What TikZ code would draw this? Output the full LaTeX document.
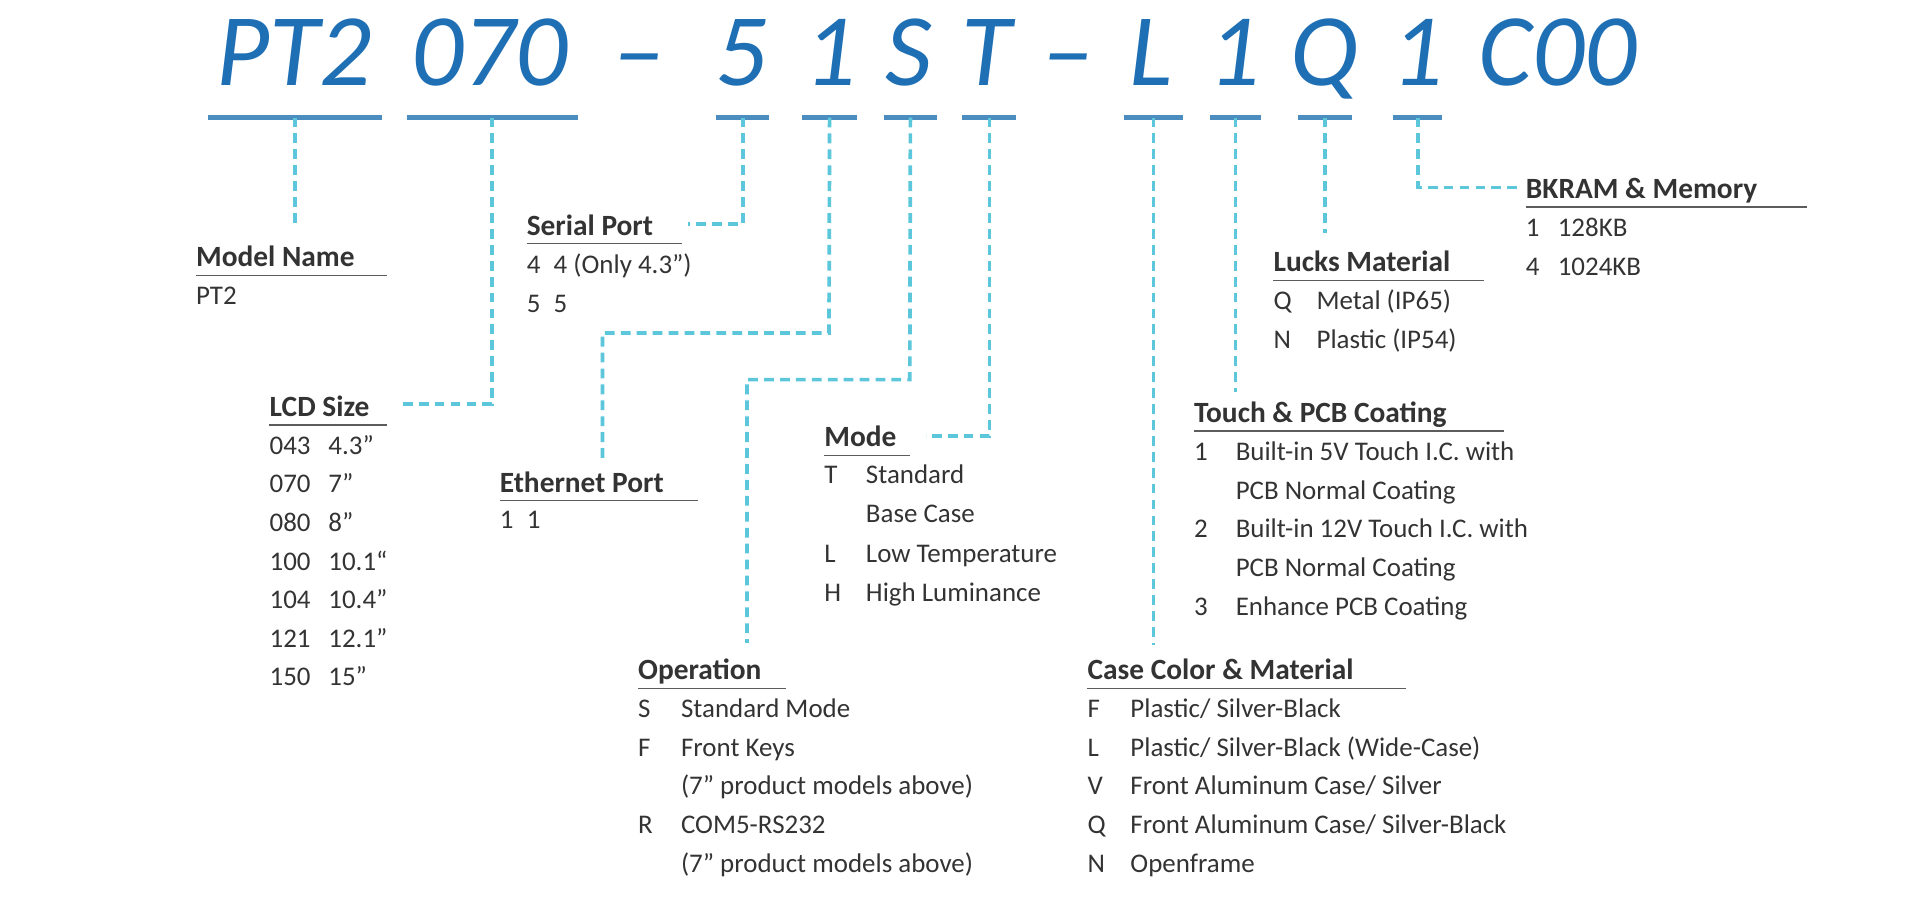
\documentclass[tikz,border=0pt]{standalone}
\usepackage{fontspec}
\setmainfont{Carlito}
\definecolor{ttl}{HTML}{1F6FB5}
\definecolor{ul}{HTML}{4A8DBE}
\definecolor{dsh}{HTML}{5CC6DA}
\definecolor{txt}{HTML}{333333}
\newcommand{\itemrow}[5]{% x code, x text, y, code, text
  \node[it] at (#1,#3) {#4}; \node[it] at (#2,#3) {#5};}
\newcommand{\hdx}[5]{% name, x, y, text, underline end
  \node[hd] (#1) at (#2,#3) {#4};
  \draw[hl] (#2,#3+7) -- (#5,#3+7);}
\begin{document}
\begin{tikzpicture}[x=1pt,y=-1pt,
  big/.style={font=\fontsize{84}{84}\selectfont\itshape, text=ttl, anchor=base, inner sep=0},
  bar/.style={draw=ul, line width=4pt},
  con/.style={draw=dsh, line width=3pt, dash pattern=on 8pt off 5pt},
  hd/.style={font=\fontsize{24}{24}\selectfont\bfseries, text=txt, anchor=base west, inner sep=0},
  it/.style={font=\fontsize{22}{22}\selectfont, text=txt, anchor=base west, inner sep=0},
  hl/.style={draw=txt!80, line width=1pt}]
\useasboundingbox (0,0) rectangle (1568,735);
% title
\node[big] (tPT) at (240,70) {PT2};
\node[big] (t070) at (400,70) {070};
\node[big] (td1) at (522,70) {–};
\node[big] (t5) at (606,70) {5};
\node[big] (t1a) at (678,70) {1};
\node[big] (tS) at (742,70) {S};
\node[big] (tT) at (806,70) {T};
\node[big] (td2) at (872,70) {–};
\node[big] (tL) at (940,70) {L};
\node[big] (t1b) at (1008,70) {1};
\node[big] (tQ) at (1082,70) {Q};
\node[big] (t1c) at (1158,70) {1};
\node[big] (tC) at (1272,70) {C00};
% bars
\foreach \a/\b/\n in {170/312/PT, 332/472/070, 585/628/5, 655/700/1a, 722/765/S, 786/830/T, 918/966/L, 988/1030/1b, 1060/1104/Q, 1138/1178/1c}{
  \draw[bar] (\a,96) -- (\b,96);
  \coordinate (b\n) at ({(\a+\b)/2},96);
}
% headings
\hdx{model}{160}{218}{Model Name}{316}
\node[it] (m1) at (160,249) {PT2};
\hdx{serial}{430}{192}{Serial Port}{557}
\itemrow{430}{452}{223}{4}{4 (Only 4.3”)}
\itemrow{430}{452}{255}{5}{5}
\hdx{lcd}{220}{340}{LCD Size}{316}
\itemrow{220}{268}{371}{043}{4.3”}
\itemrow{220}{268}{402.5}{070}{7”}
\itemrow{220}{268}{434}{080}{8”}
\itemrow{220}{268}{465.5}{100}{10.1“}
\itemrow{220}{268}{497}{104}{10.4”}
\itemrow{220}{268}{528.5}{121}{12.1”}
\itemrow{220}{268}{560}{150}{15”}
\hdx{eth}{408}{402}{Ethernet Port}{570}
\itemrow{408}{430}{432}{1}{1}
\hdx{mode}{673}{365}{Mode}{743}
\itemrow{673}{707}{395}{T}{Standard}
\itemrow{673}{707}{427}{}{Base Case}
\itemrow{673}{707}{459}{L}{Low Temperature}
\itemrow{673}{707}{491}{H}{High Luminance}
\hdx{oper}{521}{555}{Operation}{642}
\itemrow{521}{556}{586}{S}{Standard Mode}
\itemrow{521}{556}{617.6}{F}{Front Keys}
\itemrow{521}{556}{649.2}{}{(7” product models above)}
\itemrow{521}{556}{680.8}{R}{COM5-RS232}
\itemrow{521}{556}{712.4}{}{(7” product models above)}
\hdx{case}{888}{555}{Case Color \& Material}{1148}
\itemrow{888}{923}{586}{F}{Plastic/ Silver-Black}
\itemrow{888}{923}{617.6}{L}{Plastic/ Silver-Black (Wide-Case)}
\itemrow{888}{923}{649.2}{V}{Front Aluminum Case/ Silver}
\itemrow{888}{923}{680.8}{Q}{Front Aluminum Case/ Silver-Black}
\itemrow{888}{923}{712.4}{N}{Openframe}
\hdx{touch}{975}{345}{Touch \& PCB Coating}{1228}
\itemrow{975}{1009}{376}{1}{Built-in 5V Touch I.C. with}
\itemrow{975}{1009}{407.6}{}{PCB Normal Coating}
\itemrow{975}{1009}{439.2}{2}{Built-in 12V Touch I.C. with}
\itemrow{975}{1009}{470.8}{}{PCB Normal Coating}
\itemrow{975}{1009}{502.4}{3}{Enhance PCB Coating}
\hdx{lucks}{1040}{222}{Lucks Material}{1212}
\itemrow{1040}{1075}{253}{Q}{Metal (IP65)}
\itemrow{1040}{1075}{285}{N}{Plastic (IP54)}
\hdx{bk}{1246}{162}{BKRAM \& Memory}{1476}
\itemrow{1246}{1272}{193}{1}{128KB}
\itemrow{1246}{1272}{225}{4}{1024KB}
% connectors
\coordinate (eModel) at (238,183);
\coordinate (eLcd) at (328,330);
\coordinate (eSer) at (562,183);
\coordinate (eEth) at (492,378);
\coordinate (eOp) at (610,525);
\coordinate (eMode) at (756,356);
\coordinate (eCase) at (940,527);
\coordinate (eTouch) at (1009,320);
\coordinate (eLucks) at (1082,190);
\coordinate (eBk) at (1240,153);
\draw[con] (bPT) -- (bPT |- eModel);
\draw[con] (b070) |- (eLcd);
\draw[con] (b5) |- (eSer);
\draw[con] (b1a) -- (677,272) -| (eEth);
\draw[con] (bS) -- (743,310) -| (eOp);
\draw[con] (bT) |- (eMode);
\draw[con] (bL) -- (bL |- eCase);
\draw[con] (b1b) -- (b1b |- eTouch);
\draw[con] (bQ) -- (bQ |- eLucks);
\draw[con] (b1c) |- (eBk);
\end{tikzpicture}
\end{document}
